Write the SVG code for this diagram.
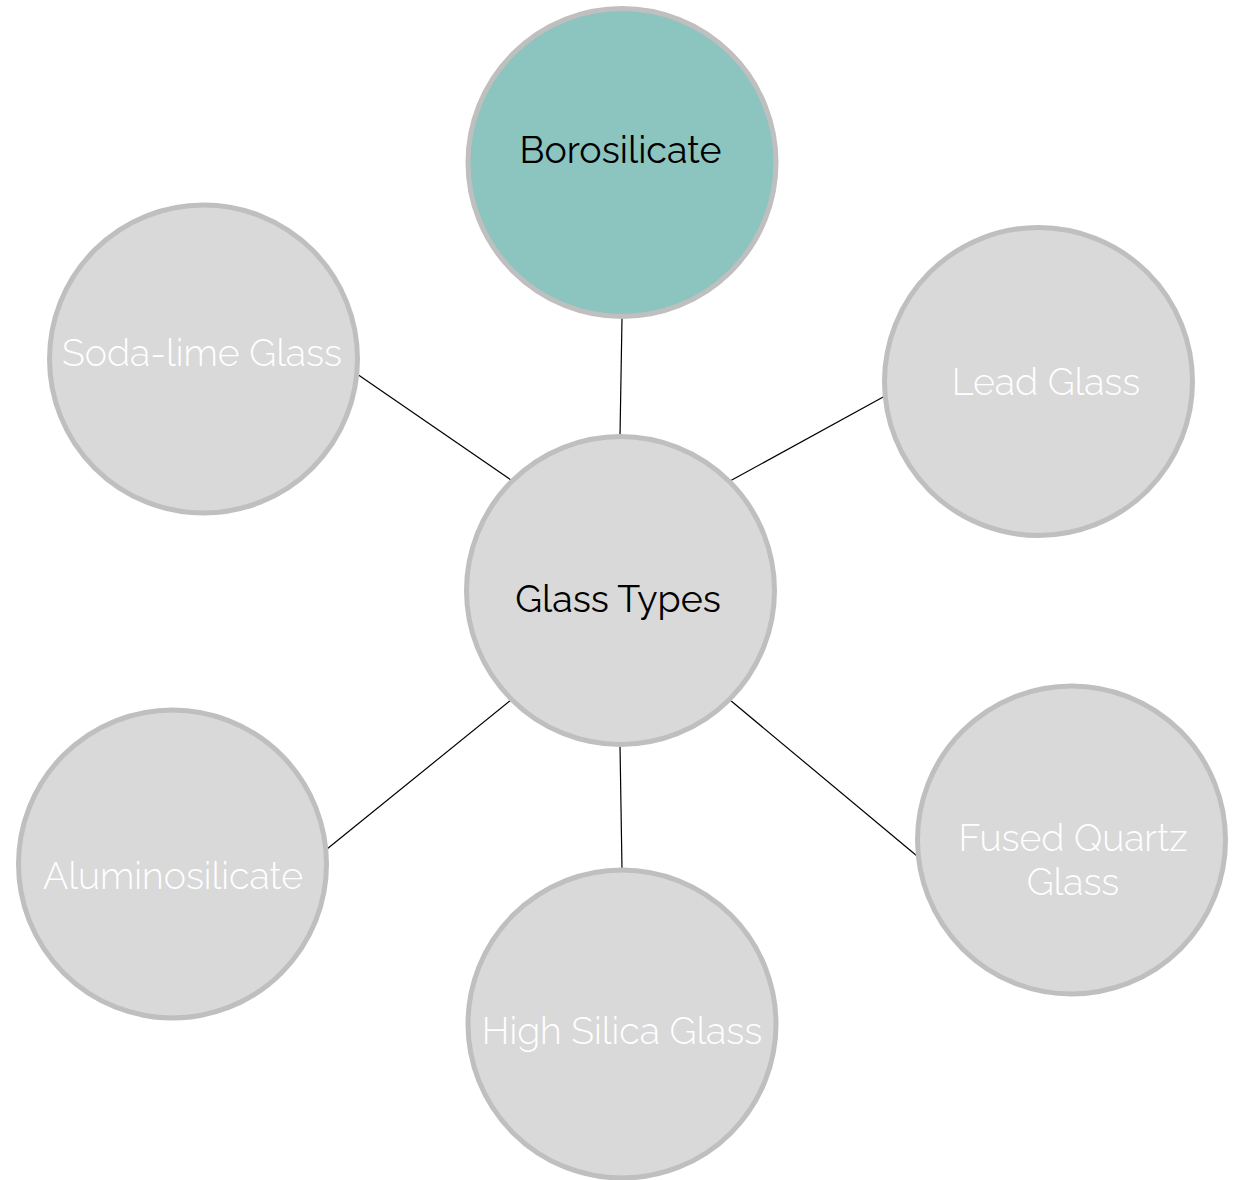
<svg xmlns="http://www.w3.org/2000/svg" width="1243" height="1180" viewBox="0 0 1243 1180">
<style>
.n{fill:#d9d9d9;stroke:#bfbfbf;stroke-width:5}
.t{font-family:Raleway,Lato,"Open Sans",sans-serif;font-size:37.5px;text-anchor:middle;font-weight:300}
.w{fill:#ffffff}
.k{fill:#000000;font-weight:400}
.c line{stroke:#000;stroke-width:1.2}
</style>
<rect width="1243" height="1180" fill="#ffffff"/>
<g class="c" id="connectors">
<line x1="622" y1="318" x2="620" y2="436"/>
<line x1="357" y1="374" x2="511" y2="480"/>
<line x1="885" y1="396" x2="730" y2="481"/>
<line x1="327" y1="849" x2="511" y2="700"/>
<line x1="620" y1="745" x2="622" y2="869"/>
<line x1="730" y1="700" x2="917" y2="856"/>
</g>
<g id="center"><circle class="n" cx="620.5" cy="590.5" r="154"/><text class="t k" x="618" y="612">Glass Types</text></g>
<g id="borosilicate"><circle class="n" style="fill:#8cc4bf" cx="622" cy="162.5" r="154"/><text class="t k" x="620.5" y="163">Borosilicate</text></g>
<g id="sodalime"><circle class="n" cx="203.5" cy="359" r="154"/><text class="t w" x="202" y="366">Soda-lime Glass</text></g>
<g id="lead"><circle class="n" cx="1038.5" cy="381.5" r="154"/><text class="t w" x="1046" y="395">Lead Glass</text></g>
<g id="fused"><circle class="n" cx="1071.5" cy="840" r="154"/><text class="t w" x="1073" y="851">Fused Quartz</text><text class="t w" x="1073" y="895">Glass</text></g>
<g id="highsilica"><circle class="n" cx="622" cy="1024" r="154"/><text class="t w" x="622" y="1044">High Silica Glass</text></g>
<g id="alumino"><circle class="n" cx="172.5" cy="864" r="154"/><text class="t w" x="173" y="889">Aluminosilicate</text></g>
</svg>
